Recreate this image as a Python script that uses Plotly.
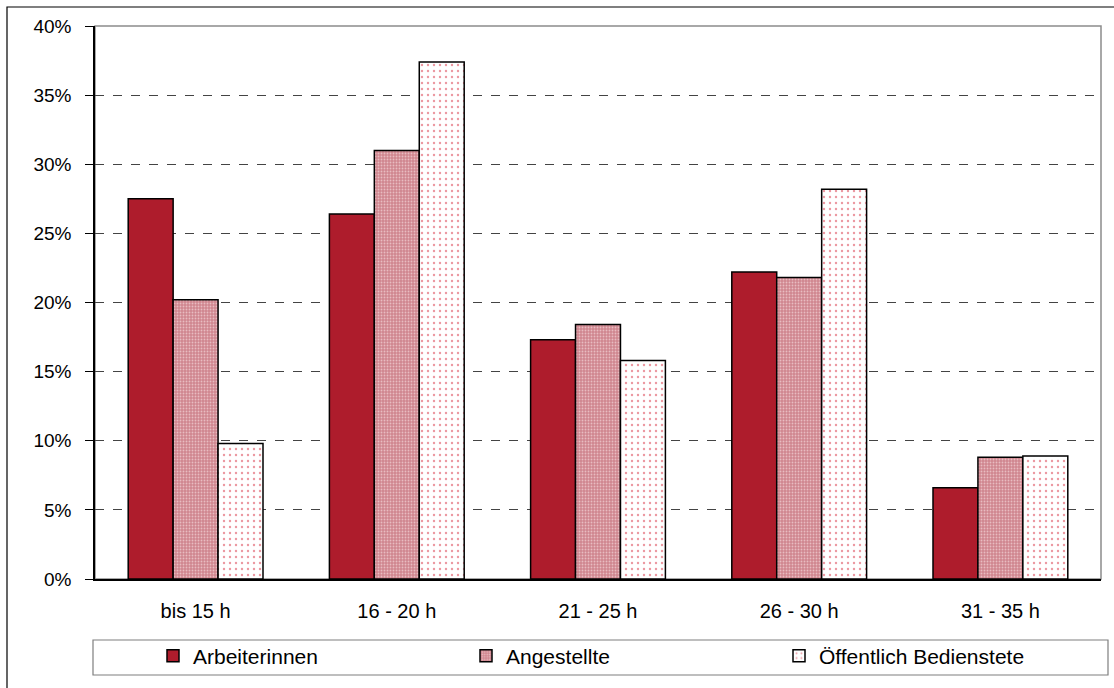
import plotly.graph_objects as go

# Part-time hours bands and share of women per employment group (%)
categories = ["bis 15 h", "16 - 20 h", "21 - 25 h", "26 - 30 h", "31 - 35 h"]
arbeiterinnen = [27.5, 26.4, 17.3, 22.2, 6.6]
angestellte = [20.2, 31.0, 18.4, 21.8, 8.8]
oeffentlich = [9.8, 37.4, 15.8, 28.2, 8.9]
series_names = ["Arbeiterinnen", "Angestellte", "Öffentlich Bedienstete"]
y_ticks = [0, 5, 10, 15, 20, 25, 30, 35, 40]

W, H = 1114, 688
L, R, T, B = 95, 1101, 26, 579

FONT = "Arial, Liberation Sans, sans-serif"
outline = dict(color="black", width=1.5)

fig = go.Figure()
fig.add_trace(go.Bar(
    x=categories, y=arbeiterinnen, name=series_names[0],
    marker=dict(color="#ae1c2c", line=outline),
))
fig.add_trace(go.Bar(
    x=categories, y=angestellte, name=series_names[1],
    marker=dict(color="#d28a93", line=outline,
                pattern=dict(shape=".", fgcolor="#e8bcc1", bgcolor="#d0868f",
                             size=3, solidity=0.3, fillmode="replace")),
))
fig.add_trace(go.Bar(
    x=categories, y=oeffentlich, name=series_names[2],
    marker=dict(color="white", line=outline,
                pattern=dict(shape=".", fgcolor="#ec97a0", bgcolor="white",
                             size=6, solidity=0.12, fillmode="replace")),
))


def px(x):
    return (x - L) / (R - L)


def py(y):
    return (B - y) / (B - T)


shapes = [
    # outer chart frame
    dict(type="rect", xref="paper", yref="paper",
         x0=px(7), x1=px(1125), y0=py(7), y1=py(700),
         line=dict(color="black", width=1.2), layer="below"),
    # plot area frame (top/right in grey)
    dict(type="rect", xref="paper", yref="paper",
         x0=0, x1=1, y0=0, y1=1,
         line=dict(color="#8c8c8c", width=1.5), layer="below"),
    # legend frame
    dict(type="rect", xref="paper", yref="paper",
         x0=px(93), x1=px(1108), y0=py(640), y1=py(675),
         line=dict(color="#7f7f7f", width=1.2), fillcolor="white", layer="below"),
]

fig.update_layout(
    width=W, height=H,
    margin=dict(l=L, r=W - R, t=T, b=H - B, autoexpand=False),
    paper_bgcolor="white", plot_bgcolor="white",
    font=dict(family=FONT, size=19, color="black"),
    barmode="group", bargap=0.33, bargroupgap=0,
    shapes=shapes,
    legend=dict(
        orientation="h", x=px(153), xanchor="left",
        y=py(656), yanchor="middle",
        bgcolor="rgba(0,0,0,0)", borderwidth=0,
        entrywidth=268, entrywidthmode="pixels",
        itemwidth=30, font=dict(size=21, family=FONT),
        traceorder="normal",
    ),
)

fig.update_xaxes(
    showline=True, linecolor="black", linewidth=1.5,
    ticks="", showgrid=False, ticklabelstandoff=13,
    tickfont=dict(size=20, family=FONT),
)
fig.update_yaxes(
    range=[0, 40], tickvals=y_ticks, ticktext=[f"{v}%" for v in y_ticks],
    showline=True, linecolor="black", linewidth=1.5,
    ticks="outside", ticklen=8, tickcolor="black", tickwidth=1,
    ticklabelstandoff=10,
    showgrid=True, gridcolor="#444444", gridwidth=1, griddash="dash",
    zeroline=False, tickfont=dict(size=19, family=FONT),
)

fig.write_html("out.html")
